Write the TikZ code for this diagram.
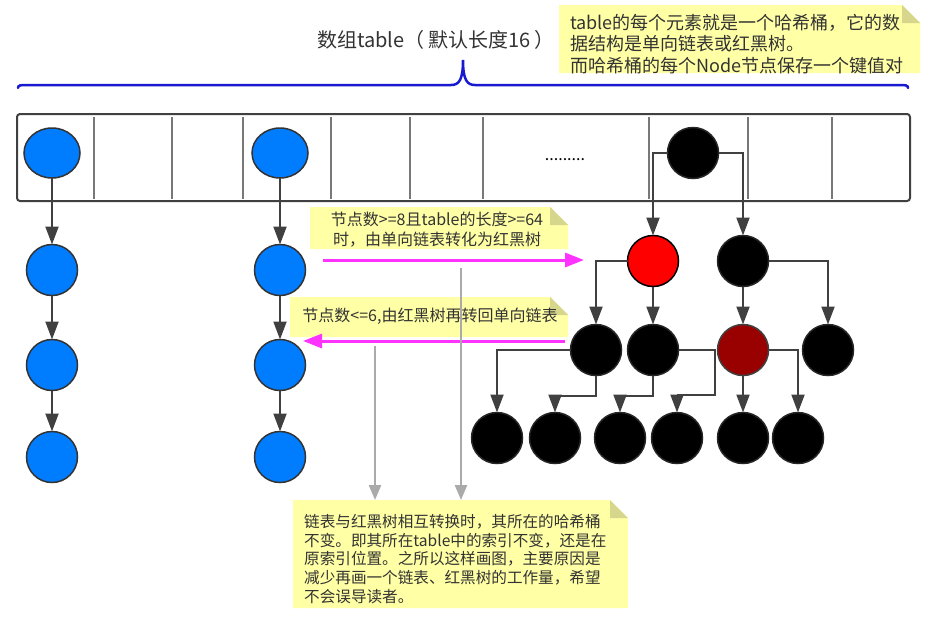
\documentclass[tikz,border=0pt]{standalone}
\usepackage{fontspec}
\setmainfont{Noto Sans CJK SC}
\usetikzlibrary{arrows.meta,shapes.geometric}
\definecolor{nodeblue}{RGB}{0,125,255}
\definecolor{linegray}{RGB}{64,64,64}
\definecolor{pinkline}{RGB}{255,51,255}
\definecolor{grayarrow}{RGB}{170,170,170}
\definecolor{braceblue}{RGB}{25,25,210}
\definecolor{notefill}{RGB}{255,255,165}
\definecolor{foldfill}{RGB}{214,214,140}
\definecolor{darkred}{RGB}{153,0,0}
\definecolor{txt}{RGB}{51,51,51}
\definecolor{cellgray}{RGB}{120,120,120}
\newcommand{\notefold}[1]{%
  \fill[notefill] (#1.south west) -- (#1.north west) -- ([xshift=-18pt]#1.north east) -- ([yshift=-18pt]#1.north east) -- (#1.south east) -- cycle;
  \fill[foldfill] ([xshift=-18pt]#1.north east) -- ([xshift=-18pt,yshift=-18pt]#1.north east) -- ([yshift=-18pt]#1.north east) -- cycle;}
\tikzset{
  frame/.style={inner sep=0pt, outer sep=0pt},
  conn/.style={draw=linegray, line width=2pt, -{Triangle[length=18pt,width=13pt]}},
  ball/.style={ellipse, inner sep=0pt, outer sep=0pt, minimum width=51pt, minimum height=51pt, line width=1.5pt},
  bluenode/.style={ball, fill=nodeblue, draw=linegray!80!black},
  tblnode/.style={bluenode, minimum width=56pt, minimum height=50pt},
  blacknode/.style={ball, fill=black, draw=black!85},
  rednode/.style={ball, fill=red, draw=black},
  darkrednode/.style={ball, fill=darkred, draw=linegray},
  pinkarrow/.style={draw=pinkline, line width=3pt, -{Triangle[length=19pt,width=14pt]}},
  grayarr/.style={draw=grayarrow, line width=2.5pt, -{Triangle[length=15pt,width=12pt]}},
  notetext/.style={text=txt, inner sep=0pt, font=\fontsize{16}{19.5}\selectfont},
}
\begin{document}
\begin{tikzpicture}[x=1pt,y=-1pt]
\useasboundingbox (0,0) rectangle (934,619);
% title and brace
\node[anchor=west, text=txt, inner sep=0pt, font=\fontsize{20}{24}\selectfont] (title) at (317,40) {数组table（\hspace{4pt}默认长度16\hspace{4pt}）};
\coordinate (bl) at (18,88);
\coordinate (br) at (908,88);
\draw[braceblue, line width=2.5pt, line cap=round] (bl) .. controls (18,85) and (21,85) .. (27,85) -- (451,85) .. controls (459,85) and (463,80) .. (463,60) .. controls (463,80) and (467,85) .. (475,85) -- (899,85) .. controls (905,85) and (908,85) .. (br);
% top note
\node[frame, minimum width=361pt, minimum height=68pt] (nt) at (739.5,39) {};
\notefold{nt}
\node[notetext, anchor=west, align=left, font=\fontsize{18}{21.5}\selectfont] (ntt) at (570,44) {table的每个元素就是一个哈希桶，它的数\\据结构是单向链表或红黑树。\\而哈希桶的每个Node节点保存一个键值对};
% table
\draw[draw=linegray, line width=2pt, rounded corners=3pt] (17,114) rectangle (910,201);
\foreach \cx in {94,172,243,331,410,483,649,748,832}
  \draw[cellgray, line width=1.5pt] (\cx,117) -- (\cx,199);
\node[text=black, inner sep=0pt, font=\fontsize{16}{18}\selectfont] (dots) at (565,160) {.........};
\node[tblnode] (t0) at (52,153) {};
\node[tblnode] (t4) at (280,153) {};
\node[blacknode] (tb) at (693,153) {};
% chains
\node[bluenode] (a1) at (52,270) {};
\node[bluenode] (a2) at (52,365) {};
\node[bluenode] (a3) at (52,457) {};
\node[bluenode] (b1) at (280,270) {};
\node[bluenode] (b2) at (280,365) {};
\node[bluenode] (b3) at (280,457) {};
\draw[conn] (t0) -- (a1);
\draw[conn] (a1) -- (a2);
\draw[conn] (a2) -- (a3);
\draw[conn] (t4) -- (b1);
\draw[conn] (b1) -- (b2);
\draw[conn] (b2) -- (b3);
% tree
\node[rednode] (r) at (653,261) {};
\node[blacknode] (k) at (743,261) {};
\node[blacknode] (m1) at (596,350) {};
\node[blacknode] (m2) at (653,350) {};
\node[darkrednode] (m3) at (743,350) {};
\node[blacknode] (m4) at (828,350) {};
\node[blacknode] (l1) at (497,438) {};
\node[blacknode] (l2) at (555,438) {};
\node[blacknode] (l3) at (620,438) {};
\node[blacknode] (l4) at (677,438) {};
\node[blacknode] (l5) at (743,438) {};
\node[blacknode] (l6) at (798,438) {};
\draw[conn] (tb.west) -| (r.north);
\draw[conn] (tb.east) -| (k.north);
\draw[conn] (r.west) -| (m1.north);
\draw[conn] (r) -- (m2);
\draw[conn] (k) -- (m3);
\draw[conn] (k.east) -| (m4.north);
\draw[conn] (m1.west) -| (l1.north);
\draw[conn] (m1.south) -- ++(0,20) -| (l2.north);
\draw[conn] (m2.south) -- ++(0,20) -| (l3.north);
\draw[conn] (m2.east) -- ++(36,0) -- ++(0,45) -| (l4.north);
\draw[conn] (m3) -- (l5);
\draw[conn] (m3.east) -| (l6.north);
% middle notes
\node[frame, minimum width=258pt, minimum height=42pt] (n1) at (439,228) {};
\notefold{n1}
\node[notetext, align=center] (n1t) at (437,229.5) {节点数>=8且table的长度>=64\\时，由单向链表转化为红黑树};
\node[frame, minimum width=278pt, minimum height=40pt] (n2) at (429,317) {};
\notefold{n2}
\node[notetext] (n2t) at (430,316) {节点数<=6,由红黑树再转回单向链表};
% bottom note
\node[frame, minimum width=335pt, minimum height=108pt] (n3) at (460.5,554) {};
\notefold{n3}
\node[notetext, anchor=west, align=left, font=\fontsize{15.6}{18.6}\selectfont] (n3t) at (304,559) {链表与红黑树相互转换时，其所在的哈希桶\\不变。即其所在table中的索引不变，还是在\\原索引位置。之所以这样画图，主要原因是\\减少再画一个链表、红黑树的工作量，希望\\不会误导读者。};
% pink arrows
\coordinate (p1s) at (323,260);
\coordinate (p1e) at (584,260);
\coordinate (p2s) at (565,341);
\coordinate (p2e) at (303,341);
\draw[pinkarrow] (p1s) -- (p1e);
\draw[pinkarrow] (p2s) -- (p2e);
% gray arrows
\coordinate (g1) at (375,346);
\coordinate (g2) at (461,268);
\draw[grayarr] (g1) -- (g1 |- n3.north);
\draw[grayarr] (g2) -- (g2 |- n3.north);
\end{tikzpicture}
\end{document}
